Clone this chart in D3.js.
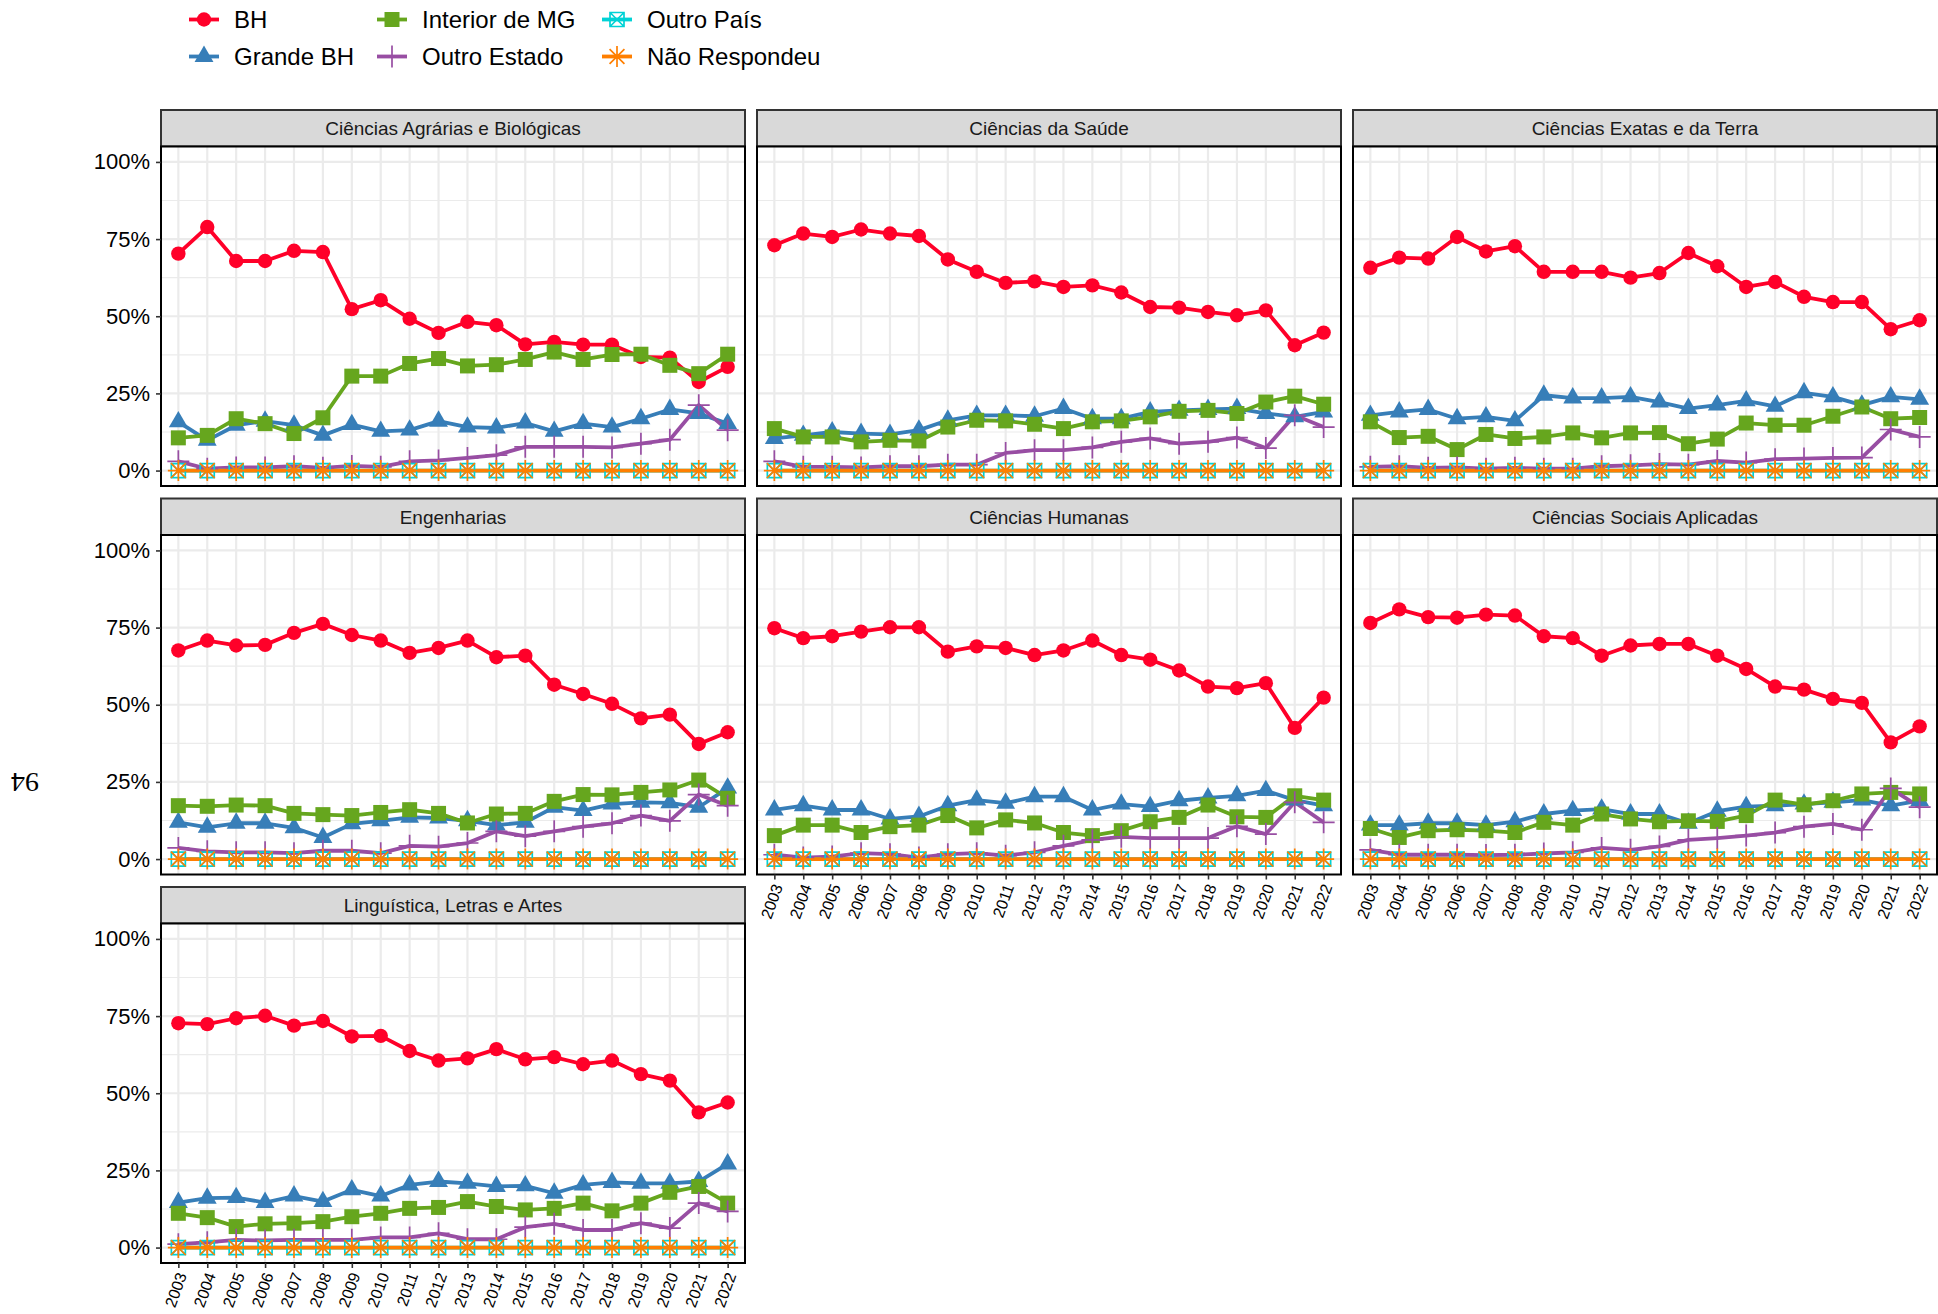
<!DOCTYPE html>
<html>
<head>
<meta charset="utf-8">
<script src="https://cdn.jsdelivr.net/npm/d3@7"></script>
<style>
  body { margin: 0; background: #fff; }
  svg { display: block; font-family: "Liberation Sans", Arial, Helvetica, sans-serif; }
</style>
</head>
<body>
<div class="canvas"></div>
<script>
const years = ["2003", "2004", "2005", "2006", "2007", "2008", "2009", "2010", "2011", "2012",
  "2013", "2014", "2015", "2016", "2017", "2018", "2019", "2020", "2021", "2022"];

const areas = ["Ciências Agrárias e Biológicas", "Ciências da Saúde", "Ciências Exatas e da Terra",
  "Engenharias", "Ciências Humanas", "Ciências Sociais Aplicadas", "Linguística, Letras e Artes"];

const origins = ["BH", "Grande BH", "Interior de MG", "Outro Estado", "Outro País", "Não Respondeu"];

const yTicks = [0, 25, 50, 75, 100];

// one row per area (same order as areas), values in %
const bh = [
  [70.3, 78.9, 67.9, 67.9, 71.2, 70.8, 52.3, 55.2, 49.2, 44.6, 48.2, 47.1, 40.9, 41.7, 40.8, 40.8, 36.8, 36.6, 28.7, 33.6],
  [73.0, 76.8, 75.7, 78.1, 76.8, 76.0, 68.4, 64.4, 60.8, 61.3, 59.5, 60.0, 57.7, 53.0, 52.8, 51.4, 50.3, 51.9, 40.6, 44.7],
  [65.7, 69.0, 68.7, 75.7, 71.0, 72.7, 64.4, 64.4, 64.4, 62.5, 64.0, 70.5, 66.2, 59.5, 61.1, 56.3, 54.6, 54.6, 45.8, 48.7],
  [67.6, 70.8, 69.2, 69.4, 73.3, 76.2, 72.6, 70.8, 66.8, 68.4, 70.8, 65.4, 65.9, 56.5, 53.5, 50.3, 45.6, 46.8, 37.3, 41.1],
  [74.8, 71.6, 72.2, 73.7, 75.1, 75.1, 67.2, 68.9, 68.4, 66.1, 67.6, 70.8, 66.1, 64.6, 61.1, 55.9, 55.4, 57.0, 42.5, 52.3],
  [76.5, 80.9, 78.4, 78.2, 79.2, 78.9, 72.2, 71.6, 65.9, 69.2, 69.7, 69.7, 65.9, 61.6, 55.9, 54.9, 51.9, 50.6, 37.8, 43.0],
  [72.7, 72.4, 74.3, 75.1, 71.9, 73.4, 68.4, 68.6, 63.7, 60.6, 61.3, 64.3, 61.0, 61.7, 59.4, 60.6, 56.2, 54.1, 43.8, 47.0]
];

const grandeBH = [
  [15.8, 9.8, 14.7, 16.0, 14.7, 11.4, 14.9, 12.7, 13.1, 16.0, 14.1, 13.8, 15.4, 12.7, 15.2, 14.1, 16.8, 19.8, 18.5, 15.2],
  [10.4, 11.4, 12.5, 12.0, 11.7, 13.1, 16.3, 17.9, 17.9, 17.6, 20.1, 16.8, 16.8, 19.0, 19.5, 19.8, 20.1, 18.5, 17.4, 19.0],
  [17.9, 19.0, 19.8, 16.8, 17.4, 16.1, 24.4, 23.5, 23.5, 23.9, 22.2, 20.1, 21.2, 22.6, 20.8, 25.2, 23.9, 21.2, 23.9, 23.1],
  [11.9, 10.3, 11.6, 11.6, 10.1, 7.0, 11.4, 12.4, 13.5, 13.3, 12.4, 11.0, 11.9, 16.8, 15.7, 17.8, 18.4, 18.2, 16.8, 23.0],
  [15.9, 17.3, 15.9, 15.9, 13.0, 13.8, 17.3, 19.1, 18.1, 20.2, 20.2, 15.9, 17.8, 17.0, 18.9, 19.8, 20.5, 22.2, 19.1, 17.3],
  [11.0, 11.0, 11.6, 11.6, 11.0, 12.1, 14.6, 15.7, 16.2, 14.6, 14.6, 11.6, 15.5, 17.0, 17.3, 17.8, 18.4, 19.1, 17.3, 18.9],
  [14.6, 16.0, 16.2, 14.6, 16.7, 14.9, 18.7, 16.7, 20.3, 21.4, 20.8, 19.8, 20.0, 17.6, 20.3, 21.1, 20.8, 20.8, 21.4, 27.1]
];

const interiorMG = [
  [10.6, 11.4, 16.8, 15.2, 12.0, 17.1, 30.6, 30.6, 34.7, 36.3, 33.9, 34.3, 36.0, 38.4, 36.0, 37.6, 37.7, 34.1, 31.4, 37.7],
  [13.6, 10.9, 10.9, 9.3, 9.8, 9.6, 14.1, 16.3, 16.1, 15.0, 13.6, 15.8, 16.1, 17.4, 19.2, 19.5, 18.5, 22.2, 24.1, 21.5],
  [15.8, 10.7, 11.1, 6.8, 11.7, 10.4, 10.9, 12.2, 10.6, 12.2, 12.3, 8.7, 10.2, 15.4, 14.7, 14.7, 17.6, 20.6, 16.8, 17.2],
  [17.3, 17.1, 17.5, 17.3, 14.8, 14.4, 14.1, 15.1, 16.0, 14.8, 11.7, 14.6, 14.8, 18.7, 20.9, 20.8, 21.6, 22.4, 25.6, 19.7],
  [7.6, 11.0, 11.0, 8.6, 10.5, 11.0, 14.1, 10.1, 12.7, 11.7, 8.6, 7.6, 9.2, 12.1, 13.5, 17.5, 13.7, 13.5, 20.5, 19.1],
  [9.9, 7.0, 9.2, 9.5, 9.2, 8.6, 11.9, 11.0, 14.6, 13.0, 12.1, 12.4, 12.2, 14.1, 19.1, 17.6, 18.9, 21.1, 21.6, 21.1],
  [11.1, 9.7, 6.8, 7.7, 7.9, 8.4, 10.0, 11.1, 12.7, 13.0, 14.9, 13.3, 12.2, 12.7, 14.4, 11.9, 14.4, 17.9, 19.8, 14.4]
];

const outroEstado = [
  [3.0, 0.6, 1.0, 1.0, 1.4, 0.9, 1.5, 1.2, 3.0, 3.3, 4.1, 5.0, 7.7, 7.7, 7.7, 7.5, 8.7, 10.0, 21.2, 13.1],
  [3.0, 1.2, 1.2, 1.0, 1.4, 1.4, 1.9, 1.9, 5.7, 6.6, 6.6, 7.5, 9.3, 10.4, 8.7, 9.3, 10.7, 7.3, 17.9, 14.1],
  [1.2, 1.4, 0.9, 1.0, 0.6, 0.9, 0.6, 0.6, 1.4, 1.7, 2.1, 1.9, 3.1, 2.6, 3.7, 3.9, 4.1, 4.2, 13.3, 10.9],
  [3.6, 2.5, 2.2, 2.2, 1.9, 2.7, 2.7, 1.9, 4.3, 4.0, 5.2, 9.0, 7.4, 9.0, 10.5, 11.6, 14.1, 12.4, 20.9, 17.3],
  [1.4, 0.5, 0.8, 1.9, 1.6, 0.5, 1.6, 1.9, 1.1, 2.2, 4.3, 6.2, 7.2, 6.8, 6.8, 6.8, 10.6, 8.1, 18.4, 11.9],
  [3.0, 1.4, 1.4, 1.4, 1.3, 1.4, 1.8, 2.2, 3.6, 3.0, 4.1, 6.2, 6.8, 7.6, 8.6, 10.5, 11.4, 9.5, 22.9, 16.8],
  [1.1, 1.7, 2.5, 2.3, 2.5, 2.5, 2.5, 3.3, 3.3, 4.6, 2.7, 2.7, 6.6, 7.7, 5.7, 5.7, 7.9, 6.3, 14.4, 11.7]
];

const outroPais = [
  [0, 0, 0, 0, 0, 0, 0, 0, 0, 0, 0, 0, 0, 0, 0, 0, 0, 0, 0, 0],
  [0, 0, 0, 0, 0, 0, 0, 0, 0, 0, 0, 0, 0, 0, 0, 0, 0, 0, 0, 0],
  [0, 0, 0, 0, 0, 0, 0, 0, 0, 0, 0, 0, 0, 0, 0, 0, 0, 0, 0, 0],
  [0, 0, 0, 0, 0, 0, 0, 0, 0, 0, 0, 0, 0, 0, 0, 0, 0, 0, 0, 0],
  [0, 0, 0, 0, 0, 0, 0, 0, 0, 0, 0, 0, 0, 0, 0, 0, 0, 0, 0, 0],
  [0, 0, 0, 0, 0, 0, 0, 0, 0, 0, 0, 0, 0, 0, 0, 0, 0, 0, 0, 0],
  [0, 0, 0, 0, 0, 0, 0, 0, 0, 0, 0, 0, 0, 0, 0, 0, 0, 0, 0, 0]
];

const naoRespondeu = [
  [0, 0, 0, 0, 0, 0, 0, 0, 0, 0, 0, 0, 0, 0, 0, 0, 0, 0, 0, 0],
  [0, 0, 0, 0, 0, 0, 0, 0, 0, 0, 0, 0, 0, 0, 0, 0, 0, 0, 0, 0],
  [0, 0, 0, 0, 0, 0, 0, 0, 0, 0, 0, 0, 0, 0, 0, 0, 0, 0, 0, 0],
  [0, 0, 0, 0, 0, 0, 0, 0, 0, 0, 0, 0, 0, 0, 0, 0, 0, 0, 0, 0],
  [0, 0, 0, 0, 0, 0, 0, 0, 0, 0, 0, 0, 0, 0, 0, 0, 0, 0, 0, 0],
  [0, 0, 0, 0, 0, 0, 0, 0, 0, 0, 0, 0, 0, 0, 0, 0, 0, 0, 0, 0],
  [0, 0, 0, 0, 0, 0, 0, 0, 0, 0, 0, 0, 0, 0, 0, 0, 0, 0, 0, 0]
];

const seriesList = [bh, grandeBH, interiorMG, outroEstado, outroPais, naoRespondeu];

const color = d3.scaleOrdinal(origins, ["#FF0029", "#377EB8", "#66A61E", "#984EA3", "#00D2D5", "#FF7F00"]);

// layout
const W = 1938, H = 1314;
const panelW = 584, panelH = 339.5, stripH = 36.5;
const gapX = 12, gapY = 12.5;
const left0 = 161, top0 = 110;
const nCols = 3;

const svg = d3.select('.canvas')
  .append('svg')
  .attr('width', W)
  .attr('height', H);

const x = d3.scalePoint()
  .domain(years)
  .range([0, panelW])
  .padding(0.6);

const y = d3.scaleLinear()
  .domain([-5, 105])
  .range([panelH, 0]);

// marker shapes (ggplot 16, 17, 15, 3, 7, 8)
const plusPath = r => `M${-r},0H${r}M0,${-r}V${r}`;
const boxXPath = r => `M${-r},${-r}H${r}V${r}H${-r}ZM${-r},${-r}L${r},${r}M${-r},${r}L${r},${-r}`;
const starPath = r => {
  const d = r * Math.SQRT1_2;
  return plusPath(r) + `M${-d},${-d}L${d},${d}M${-d},${d}L${d},${-d}`;
};
const markers = {
  "BH": { d: d3.symbol(d3.symbolCircle, Math.PI * 7.2 * 7.2)(), filled: true },
  "Grande BH": { d: d3.symbol(d3.symbolTriangle, 155)(), filled: true },
  "Interior de MG": { d: d3.symbol(d3.symbolSquare, 15 * 15)(), filled: true },
  "Outro Estado": { d: plusPath(11), filled: false },
  "Outro País": { d: boxXPath(7), filled: false },
  "Não Respondeu": { d: starPath(10.5), filled: false }
};

function drawMarker(sel, origin) {
  const m = markers[origin];
  sel.append('path')
    .attr('d', m.d)
    .attr('fill', m.filled ? color(origin) : 'none')
    .attr('stroke', m.filled ? 'none' : color(origin))
    .attr('stroke-width', m.filled ? 0 : 1.7);
}

const line = d3.line()
  .x((d, i) => x(years[i]))
  .y(d => y(d));

areas.forEach((area, ai) => {
  const col = ai % nCols, row = Math.floor(ai / nCols);
  const gx = left0 + col * (panelW + gapX);
  const gy = top0 + row * (stripH + panelH + gapY);
  const g = svg.append('g').attr('transform', `translate(${gx}, ${gy})`);

  // strip
  g.append('rect')
    .attr('width', panelW).attr('height', stripH)
    .attr('fill', '#d9d9d9').attr('stroke', '#333').attr('stroke-width', 2);
  g.append('text')
    .attr('x', panelW / 2).attr('y', stripH / 2)
    .attr('dy', '0.36em')
    .attr('text-anchor', 'middle')
    .attr('fill', '#1a1a1a')
    .style('font-size', '19px')
    .text(area);

  const p = g.append('g').attr('transform', `translate(0, ${stripH})`);
  p.append('rect').attr('width', panelW).attr('height', panelH).attr('fill', 'white');

  // grid
  const minor = [12.5, 37.5, 62.5, 87.5];
  p.selectAll('.minor').data(minor).enter().append('line')
    .attr('x1', 0).attr('x2', panelW)
    .attr('y1', d => y(d)).attr('y2', d => y(d))
    .attr('stroke', '#ebebeb').attr('stroke-width', 1.2);
  p.selectAll('.major').data(yTicks).enter().append('line')
    .attr('x1', 0).attr('x2', panelW)
    .attr('y1', d => y(d)).attr('y2', d => y(d))
    .attr('stroke', '#ebebeb').attr('stroke-width', 2.2);
  p.selectAll('.vgrid').data(years).enter().append('line')
    .attr('x1', d => x(d)).attr('x2', d => x(d))
    .attr('y1', 0).attr('y2', panelH)
    .attr('stroke', '#ebebeb').attr('stroke-width', 2.2);

  // lines first, then points (layer order)
  origins.forEach((o, oi) => {
    p.append('path')
      .attr('d', line(seriesList[oi][ai]))
      .attr('fill', 'none')
      .attr('stroke', color(o))
      .attr('stroke-width', 3.8)
      .attr('stroke-linejoin', 'round');
  });
  origins.forEach((o, oi) => {
    const pts = p.selectAll(null)
      .data(seriesList[oi][ai])
      .enter()
      .append('g')
      .attr('transform', (d, i) => `translate(${x(years[i])}, ${y(d)})`);
    pts.each(function () { drawMarker(d3.select(this), o); });
  });

  p.append('rect')
    .attr('width', panelW).attr('height', panelH)
    .attr('fill', 'none').attr('stroke', '#000').attr('stroke-width', 2);

  // y axis on first column
  if (col === 0) {
    const ya = p.append('g')
      .call(d3.axisLeft(y).tickValues(yTicks).tickSize(5).tickPadding(6).tickFormat(d => d + '%'));
    ya.select('.domain').remove();
    ya.selectAll('line').attr('stroke', '#333').attr('stroke-width', 1.6);
    ya.selectAll('text').attr('fill', '#000').style('font-size', '22px')
      .style('font-family', '"Liberation Sans", Arial, sans-serif');
  }

  // x axis on bottom-most panel of each column
  if (ai + nCols >= areas.length) {
    const xa = p.append('g')
      .attr('transform', `translate(0, ${panelH})`)
      .call(d3.axisBottom(x).tickSize(5).tickPadding(4));
    xa.select('.domain').remove();
    xa.selectAll('line').attr('stroke', '#333').attr('stroke-width', 1.6);
    xa.selectAll('text')
      .attr('fill', '#000')
      .style('font-size', '16px')
      .style('font-family', '"Liberation Sans", Arial, sans-serif')
      .attr('text-anchor', 'end')
      .attr('y', 0).attr('dy', '0.55em')
      .attr('transform', 'translate(0, 9) rotate(-70)');
  }
});

// legend (2 rows, filled by column)
const legendX = [204, 392, 617];
const legendY = [19.5, 56.5];
const legend = svg.append('g');
origins.forEach((o, i) => {
  const lg = legend.append('g')
    .attr('transform', `translate(${legendX[Math.floor(i / 2)]}, ${legendY[i % 2]})`);
  lg.append('line')
    .attr('x1', -15).attr('x2', 15)
    .attr('stroke', color(o)).attr('stroke-width', 3.8);
  drawMarker(lg, o);
  lg.append('text')
    .attr('x', 30).attr('dy', '0.36em')
    .attr('fill', '#000')
    .style('font-size', '24px')
    .text(o);
});

// page number from the source document
svg.append('text')
  .attr('transform', 'translate(25, 783) rotate(180)')
  .attr('text-anchor', 'middle')
  .attr('dy', '0.36em')
  .style('font-family', '"Liberation Serif", "DejaVu Serif", serif')
  .style('font-size', '28px')
  .text('94');
</script>
</body>
</html>
